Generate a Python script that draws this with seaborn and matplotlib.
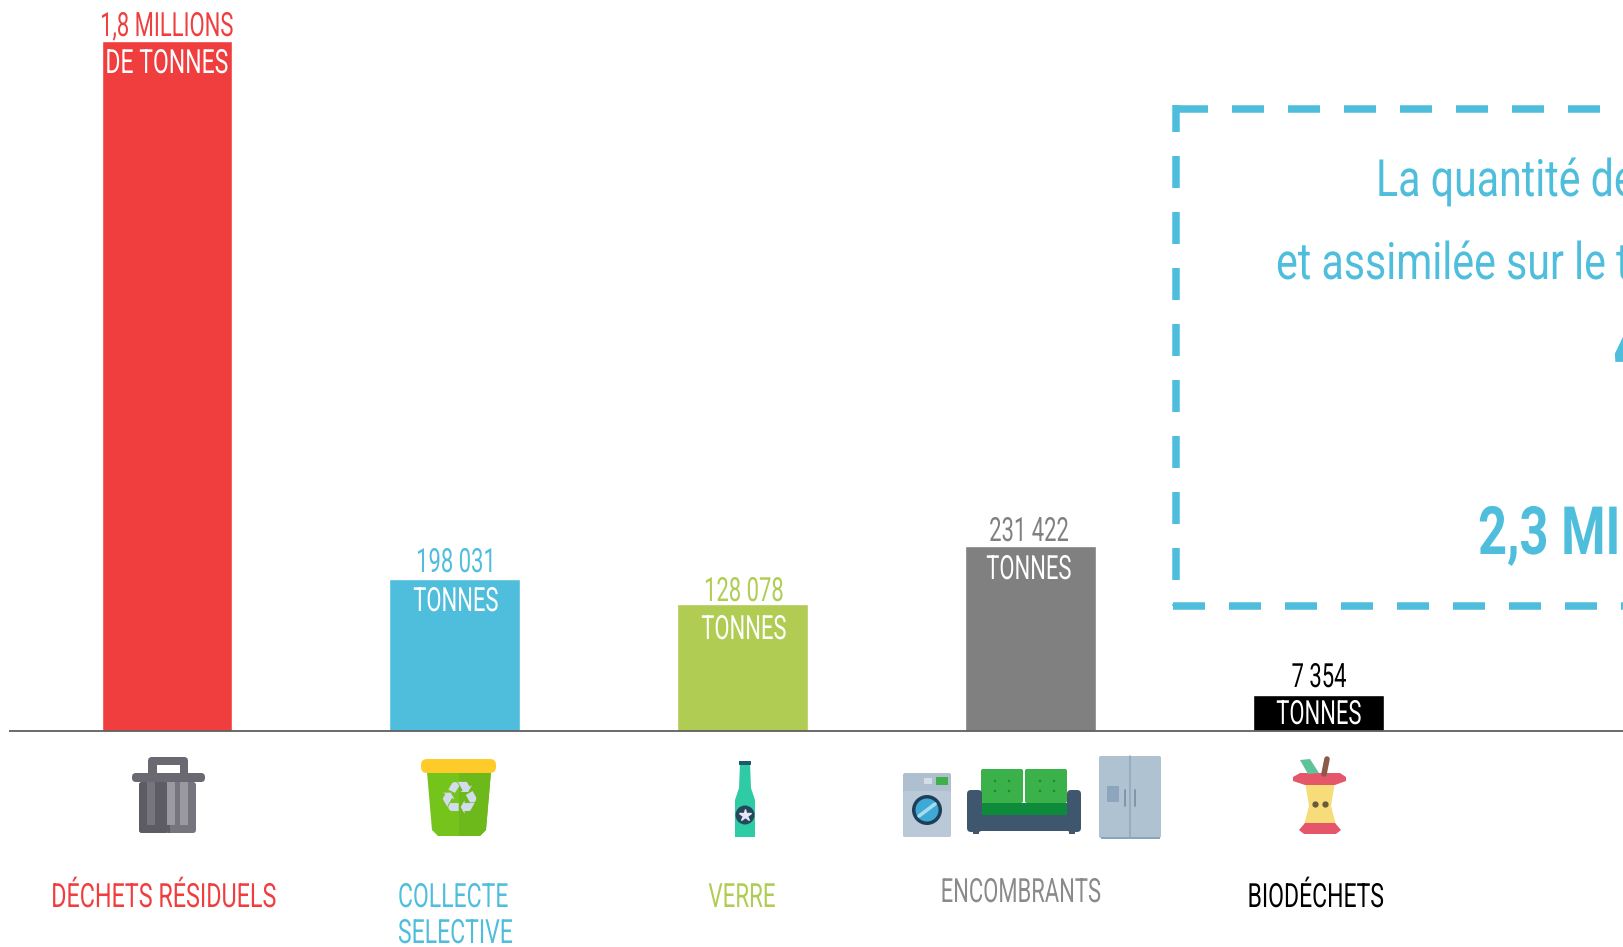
import pandas as pd
import numpy as np
import matplotlib.pyplot as plt
import matplotlib.patches as mp
import matplotlib.patheffects as pe
from matplotlib.transforms import Affine2D
import seaborn as sns

# Bar heights (the bars are not drawn to scale with their labels)
categories = ['DÉCHETS RÉSIDUELS', 'COLLECTE\nSELECTIVE', 'VERRE', 'ENCOMBRANTS', 'BIODÉCHETS']
bar_heights = [690, 152, 127, 185, 36]
value_labels = ['1,8 MILLIONS', '198 031', '128 078', '231 422', '7 354']
unit_labels = ['DE TONNES', 'TONNES', 'TONNES', 'TONNES', 'TONNES']
colors = ['#F03D3E', '#4FBEDC', '#B0CC52', '#808080', '#000000']
box_lines = ['La quantité de', 'et assimilée sur le t', '4', '2,3 MIL']

W, H = 1624, 947
BASE = 731
BLUE = colors[1]

sns.set_style('white')
plt.rcParams['font.family'] = ['Roboto', 'DejaVu Sans']


# no condensed font is installed, so narrow the real text when it is drawn
class Squeeze(pe.AbstractPathEffect):
    def __init__(self, sx, x0):
        super().__init__()
        self.sx = sx
        self.x0 = x0

    def draw_path(self, renderer, gc, tpath, affine, rgbFace=None):
        squeeze = Affine2D().translate(-self.x0, 0).scale(self.sx, 1).translate(self.x0, 0)
        renderer.draw_path(gc, tpath, affine + squeeze, rgbFace)


fig = plt.figure(figsize=(W / 100, H / 100), dpi=100)
ax = fig.add_axes([0, 0, 1, 1])

df = pd.DataFrame({'categorie': categories, 'hauteur': bar_heights})
sns.barplot(data=df, x='categorie', y='hauteur', hue='categorie', palette=colors,
            legend=False, width=0.455, saturation=1, ax=ax)
# category positions are 288 px apart, first one centred at 167 px
ax.set_xlim(-167 / 287.9, (W - 167) / 287.9)
ax.set_ylim(-(H - BASE), BASE)
ax.axis('off')

# overlay in pixel coordinates for the infographic furniture
ov = fig.add_axes([0, 0, 1, 1], facecolor='none')
ov.set_xlim(0, W)
ov.set_ylim(H, 0)
ov.axis('off')


def label(x, y, s, c, size=24, sx=0.66, ha='center', va='center', **kw):
    t = ov.text(x, y, s, color=c, fontsize=size, ha=ha, va=va, **kw)
    t.set_path_effects([Squeeze(sx, x)])
    return t


ov.plot([9, W], [731, 731], color='#5f5f5f', lw=1.3, solid_capstyle='butt')

# value labels above the bars, unit labels inside them
value_xy = [(167, 27), (456, 563), (744, 592), (1029, 532), (1319, 678)]
unit_xy = [(167, 64), (456, 602), (744, 630), (1029, 570), (1319, 715)]
for i in range(5):
    label(*value_xy[i], value_labels[i], colors[i])
    label(*unit_xy[i], unit_labels[i], 'white', sx=0.69 if i == 0 else 0.66)

# category labels
label_xy = [(164, 898), (398, 897), (742, 898), (1021, 893), (1316, 898)]
label_colors = [colors[0], colors[1], colors[2], '#8a8a8a', '#000000']
label_sx = [0.70, 0.69, 0.67, 0.66, 0.69]
for i in range(5):
    if i == 1:
        for line, y in zip(categories[1].split('\n'), (898, 934)):
            label(label_xy[1][0], y, line, label_colors[1], sx=label_sx[1], ha='left')
    else:
        label(*label_xy[i], categories[i], label_colors[i], sx=label_sx[i])

# dashed box, open on the right where the picture is cut
dash = dict(color=BLUE, lw=5.4, solid_capstyle='butt', dash_capstyle='butt')
pattern = (32 / 7.5, 24 / 7.5)
ov.plot([1176, W], [109, 109], linestyle=(0, pattern), **dash)
ov.plot([1176, 1176], [105, 606], linestyle=(5 / 7.5, pattern), **dash)
ov.plot([1173, W], [606, 606], linestyle=(0, pattern), **dash)

# box text, runs off the right edge like the original
label(1376, 182, box_lines[0], BLUE, size=37, sx=0.80, ha='left')
label(1276, 265, box_lines[1], BLUE, size=37, sx=0.80, ha='left')
label(1613, 376, box_lines[2], BLUE, size=66, sx=0.75, ha='left', va='baseline', weight='bold')
label(1478, 536, box_lines[3], BLUE, size=48, sx=0.76, ha='left', weight='bold')


def rect(x0, y0, x1, y1, c, r=0, z=3):
    if r:
        p = mp.FancyBboxPatch((x0 + r, y0 + r), x1 - x0 - 2 * r, y1 - y0 - 2 * r,
                              boxstyle=f'round,pad={r}', fc=c, ec='none', zorder=z)
    else:
        p = mp.Rectangle((x0, y0), x1 - x0, y1 - y0, fc=c, ec='none', zorder=z)
    ov.add_patch(p)


def poly(points, c, z=3):
    ov.add_patch(mp.Polygon(points, closed=True, fc=c, ec='none', zorder=z))


def circle(x, y, r, c, z=4):
    ov.add_patch(mp.Circle((x, y), r, fc=c, ec='none', zorder=z))


# trash can
rect(148, 757, 188, 776, '#6a6972', r=4)
rect(157, 765, 180, 773, 'white', z=4)
rect(132, 773, 205, 782, '#6a6972', r=4, z=4)
rect(139, 782, 196, 833, '#76757f', r=3)
rect(139, 782, 168, 833, '#5d5c64', r=3)
rect(168, 782, 170, 833, '#5d5c64')
for x0, c in ((147, '#76757f'), (167, '#9a99a2'), (180, '#9a99a2')):
    rect(x0, 782, x0 + 8, 825, c, z=4)

# recycling bin
poly([(427, 772), (491, 772), (486, 830), (480, 836), (438, 836), (432, 830)], '#74C41C')
poly([(459, 772), (491, 772), (486, 830), (480, 836), (459, 836)], '#6DB81A', z=3)
rect(421, 759, 496, 773, '#FFCB2B', r=6, z=4)
ov.text(459, 801, '♻', family='DejaVu Sans', color='#D3DCEC', fontsize=33,
        ha='center', va='center', zorder=5)

# bottle
poly([(740, 763), (750, 763), (751, 788), (755, 800), (755, 837), (735, 837),
      (735, 800), (739, 788)], '#2ECBA5')
rect(739, 761, 751, 765, '#1D5A6E', z=4)
circle(745, 815, 9.5, '#23485C')
ov.plot([745], [815], marker='*', color='#E8E6F5', ms=9, zorder=5)

# washing machine
rect(903, 773, 951, 837, '#AEBFD0', r=2)
rect(903, 791, 951, 837, '#B9C9D8', r=2, z=3)
rect(936, 777, 948, 785, '#3DB04A', z=4)
rect(924, 778, 932, 784, '#D5DEE6', z=4)
circle(927, 810, 15, '#1F3F57')
circle(927, 810, 11.5, '#3FA9D6', z=5)
ov.plot([919, 935], [816, 804], color='#A8DDF0', lw=2.5, zorder=6)

# sofa
rect(981, 769, 1023, 803, '#3BB14A', r=2)
rect(1025, 769, 1067, 803, '#3BB14A', r=2)
rect(981, 803, 1067, 815, '#0E8A3B')
rect(967, 790, 982, 832, '#3F566F', r=4, z=4)
rect(1067, 790, 1081, 832, '#3F566F', r=4, z=4)
rect(980, 815, 1069, 831, '#3F566F')
rect(973, 828, 979, 834, '#3F566F', z=4)
rect(1069, 828, 1075, 834, '#3F566F', z=4)
for x in (995, 1009, 1040, 1054):
    for y in (781, 791):
        circle(x, y, 1.3, '#1E8A3A')

# fridge
rect(1099, 756, 1161, 838, '#AEC2D2', r=2)
ov.plot([1130, 1130], [756, 838], color='#93A9BC', lw=1.2, zorder=4)
rect(1107, 786, 1119, 802, '#8DA6BE', r=1, z=4)
ov.plot([1125, 1125], [790, 806], color='#7E96AB', lw=1.4, zorder=4)
ov.plot([1135, 1135], [790, 806], color='#7E96AB', lw=1.4, zorder=4)
rect(1101, 837, 1160, 839, '#8AA4B8', z=4)

# apple core
poly([(1305, 782), (1335, 782), (1331, 806), (1336, 825), (1304, 825), (1309, 806)], '#F7DC7A')
poly([(1293, 777), (1300, 773), (1340, 773), (1346, 777), (1346, 781), (1335, 785),
      (1305, 785), (1293, 781)], '#E5566A', z=4)
poly([(1299, 830), (1305, 823), (1335, 823), (1341, 830), (1336, 834), (1304, 834)], '#E5566A', z=4)
ov.plot([1324, 1327], [774, 759], color='#8D5A4A', lw=4, solid_capstyle='round', zorder=5)
poly([(1300, 760), (1310, 759), (1319, 773), (1308, 774)], '#5DC39B', z=5)
ov.plot([1315, 1325], [804, 804], ls='none', marker='o', color='#6B5A3A', ms=3.5, zorder=5)

fig.savefig('out.png', dpi=100)
